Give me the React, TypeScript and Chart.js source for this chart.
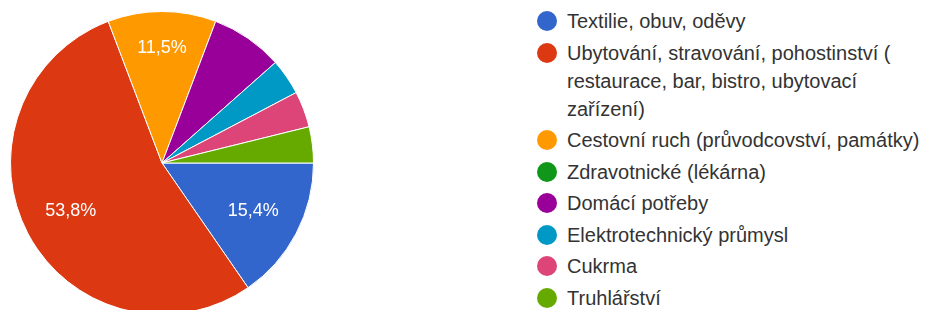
import React, { useEffect, useRef } from "react";
import { Chart, registerables } from "chart.js";

Chart.register(...registerables);

const categories = [
  "Textilie, obuv, oděvy",
  "Ubytování, stravování, pohostinství ( restaurace, bar, bistro, ubytovací zařízení)",
  "Cestovní ruch (průvodcovství, památky)",
  "Zdravotnické (lékárna)",
  "Domácí potřeby",
  "Elektrotechnický průmysl",
  "Cukrma",
  "Truhlářství",
];
const counts = [4, 14, 3, 0, 2, 1, 1, 1];
const colors = ["#3366cc", "#dc3912", "#ff9900", "#109618", "#990099", "#0099c6", "#dd4477", "#66aa00"];

const sliceLabels = {
  id: "sliceLabels",
  afterDatasetsDraw(chart: any) {
    const ctx = chart.ctx;
    const meta = chart.getDatasetMeta(0);
    const data = chart.data.datasets[0].data as number[];
    const total = data.reduce((a, b) => a + b, 0);
    ctx.save();
    ctx.fillStyle = "#ffffff";
    ctx.font = "18px 'Liberation Sans', Arial, sans-serif";
    ctx.textAlign = "center";
    ctx.textBaseline = "middle";
    meta.data.forEach((arc: any, i: number) => {
      const frac = data[i] / total;
      if (frac < 0.1) return;
      const { x, y, startAngle, endAngle, outerRadius } = arc.getProps(["x", "y", "startAngle", "endAngle", "outerRadius"], true);
      const mid = (startAngle + endAngle) / 2;
      const r = outerRadius * (frac < 0.13 ? 0.76 : 0.68);
      const txt = (frac * 100).toFixed(1).replace(".", ",") + "%";
      ctx.fillText(txt, x + Math.cos(mid) * r, y + Math.sin(mid) * r);
    });
    ctx.restore();
  },
};

export default function App() {
  const ref = useRef<HTMLCanvasElement | null>(null);
  useEffect(() => {
    if (!ref.current) return;
    const chart = new Chart(ref.current, {
      type: "pie",
      data: {
        labels: categories,
        datasets: [
          {
            data: counts,
            backgroundColor: colors,
            borderColor: "#ffffff",
            borderWidth: 1,
          },
        ],
      },
      options: {
        responsive: false,
        animation: false,
        rotation: 90,
        layout: { padding: 0 },
        plugins: { legend: { display: false }, tooltip: { enabled: false } },
      },
      plugins: [sliceLabels],
    });
    return () => chart.destroy();
  }, []);

  return (
    <div
      style={{
        position: "fixed",
        left: 0,
        top: 0,
        width: 925,
        height: 310,
        overflow: "hidden",
        background: "#ffffff",
        fontFamily: "'Liberation Sans', Arial, sans-serif",
      }}
    >
      <canvas ref={ref} width={304} height={304} style={{ position: "absolute", left: 10, top: 11 }} />
      <div style={{ position: "absolute", left: 537, top: 7, width: 388 }}>
        {categories.map((c, i) => (
          <div key={i} style={{ display: "flex", alignItems: "flex-start", marginBottom: 3.5 }}>
            <span
              style={{
                flex: "0 0 auto",
                width: 20,
                height: 20,
                borderRadius: "50%",
                background: colors[i],
                marginTop: 4,
                marginRight: 10,
              }}
            />
            <span style={{ fontSize: 20, lineHeight: "28px", color: "#333333", width: 356 }}>{c}</span>
          </div>
        ))}
      </div>
    </div>
  );
}
